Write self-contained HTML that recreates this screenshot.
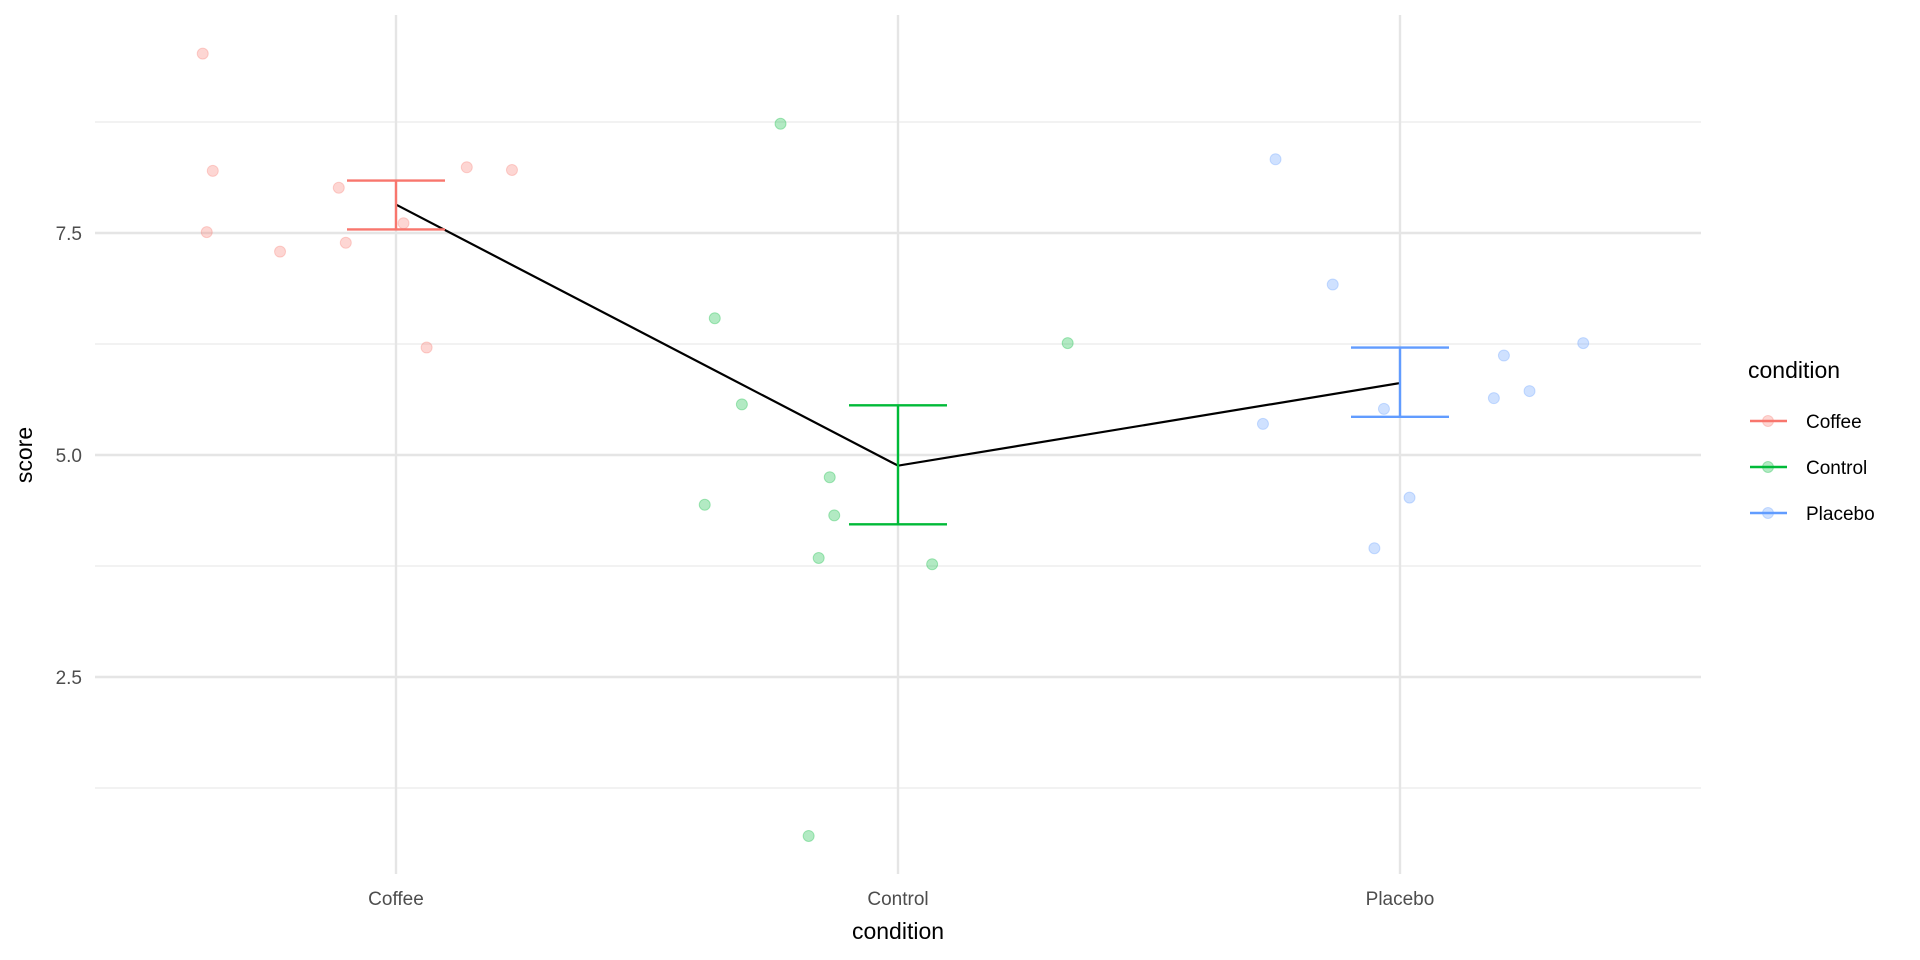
<!DOCTYPE html>
<html><head><meta charset="utf-8"><style>
html,body{margin:0;padding:0;background:#fff;}
svg{display:block;font-family:"Liberation Sans",Arial,sans-serif;}
</style></head><body>
<svg id="chart" width="1920" height="960" viewBox="0 0 1920 960" xmlns="http://www.w3.org/2000/svg">
<g id="grid"></g>
<g id="marks"></g>
<g id="axes"></g>
<text x="898" y="939" font-size="23" text-anchor="middle" fill="#000">condition</text>
<text transform="translate(32,455) rotate(-90)" font-size="23" text-anchor="middle" fill="#000">score</text>
<g id="legend">
<text x="1748" y="378" font-size="23" fill="#000">condition</text>
</g>
</svg>
<script>
const categories = ["Coffee","Control","Placebo"];
const colors = ["#F8766D","#00BA38","#619CFF"];
const coffeeScores = [9.52,8.20,7.51,7.29,8.01,7.39,7.61,6.21,8.24,8.21];
const controlScores = [8.73,6.54,5.57,4.44,4.75,4.32,3.84,3.77,0.71,6.26];
const placeboScores = [8.33,6.92,5.35,5.52,4.52,3.95,5.64,6.12,5.72,6.26];
const coffeeJitter = [-0.385,-0.365,-0.377,-0.231,-0.114,-0.100,0.015,0.061,0.141,0.231];
const controlJitter = [-0.234,-0.365,-0.311,-0.385,-0.136,-0.127,-0.158,0.068,-0.178,0.338];
const placeboJitter = [-0.248,-0.134,-0.273,-0.032,0.019,-0.051,0.187,0.207,0.258,0.365];
const means = [7.82,4.88,5.81];
const errLow = [7.54,4.22,5.43];
const errHigh = [8.09,5.56,6.21];
const yTicks = [2.5,5.0,7.5];
const yTickLabels = ["2.5","5.0","7.5"];
const yMinor = [1.25,3.75,6.25,8.75];

const NS="http://www.w3.org/2000/svg";
const PL=95,PR=1701,PT=15,PB=874;
function x(i){return 396+i*502;}
function y(v){return 455-(v-5)*88.8;}
function mk(tag,attrs,parent){const e=document.createElementNS(NS,tag);for(const k in attrs)e.setAttribute(k,attrs[k]);parent.appendChild(e);return e;}
const grid=document.getElementById('grid'),marks=document.getElementById('marks'),axes=document.getElementById('axes'),legend=document.getElementById('legend');
yMinor.forEach(v=>{const l=mk('line',{x1:PL,x2:PR,y1:y(v),y2:y(v),stroke:'#ebebeb','stroke-width':1.2},grid);

});
yTicks.forEach((v,i)=>{const l=mk('line',{x1:PL,x2:PR,y1:y(v),y2:y(v),stroke:'#e5e5e5','stroke-width':2.4},grid);


const t=mk('text',{x:82,y:y(v)+7,'font-size':19,'text-anchor':'end',fill:'#4d4d4d'},axes);t.textContent=yTickLabels[i];

});
categories.forEach((c,i)=>{const l=mk('line',{x1:x(i),x2:x(i),y1:PT,y2:PB,stroke:'#e5e5e5','stroke-width':2.4},grid);


const t=mk('text',{x:x(i),y:905,'font-size':19,'text-anchor':'middle',fill:'#4d4d4d'},axes);t.textContent=c;

});
const series=[coffeeScores,controlScores,placeboScores],jit=[coffeeJitter,controlJitter,placeboJitter];
series.forEach((s,i)=>{s.forEach((v,j)=>{const p=mk('circle',{cx:x(i+jit[i][j]),cy:y(v),r:5.5,fill:colors[i],'fill-opacity':0.3,stroke:colors[i],'stroke-opacity':0.3},marks);

});});
const pl=mk('polyline',{points:means.map((m,i)=>x(i)+','+y(m)).join(' '),fill:'none',stroke:'#000','stroke-width':2.2},marks);


categories.forEach((c,i)=>{const g=mk('g',{stroke:colors[i],'stroke-width':2.4,fill:'none'},marks);


const a=x(i)-49,b=x(i)+49;
mk('path',{d:`M${a},${y(errHigh[i])}H${b}M${x(i)},${y(errHigh[i])}V${y(errLow[i])}M${a},${y(errLow[i])}H${b}`},g);});
categories.forEach((c,i)=>{const yy=421+i*46;const g=mk('g',{},legend);


mk('line',{x1:1750,x2:1787,y1:yy,y2:yy,stroke:colors[i],'stroke-width':2.4},g);
mk('circle',{cx:1768,cy:yy,r:5.5,fill:colors[i],'fill-opacity':0.3,stroke:colors[i],'stroke-opacity':0.3},g);
const t=mk('text',{x:1806,y:yy+7,'font-size':19,fill:'#000'},g);t.textContent=c;});
</script>
</body></html>
